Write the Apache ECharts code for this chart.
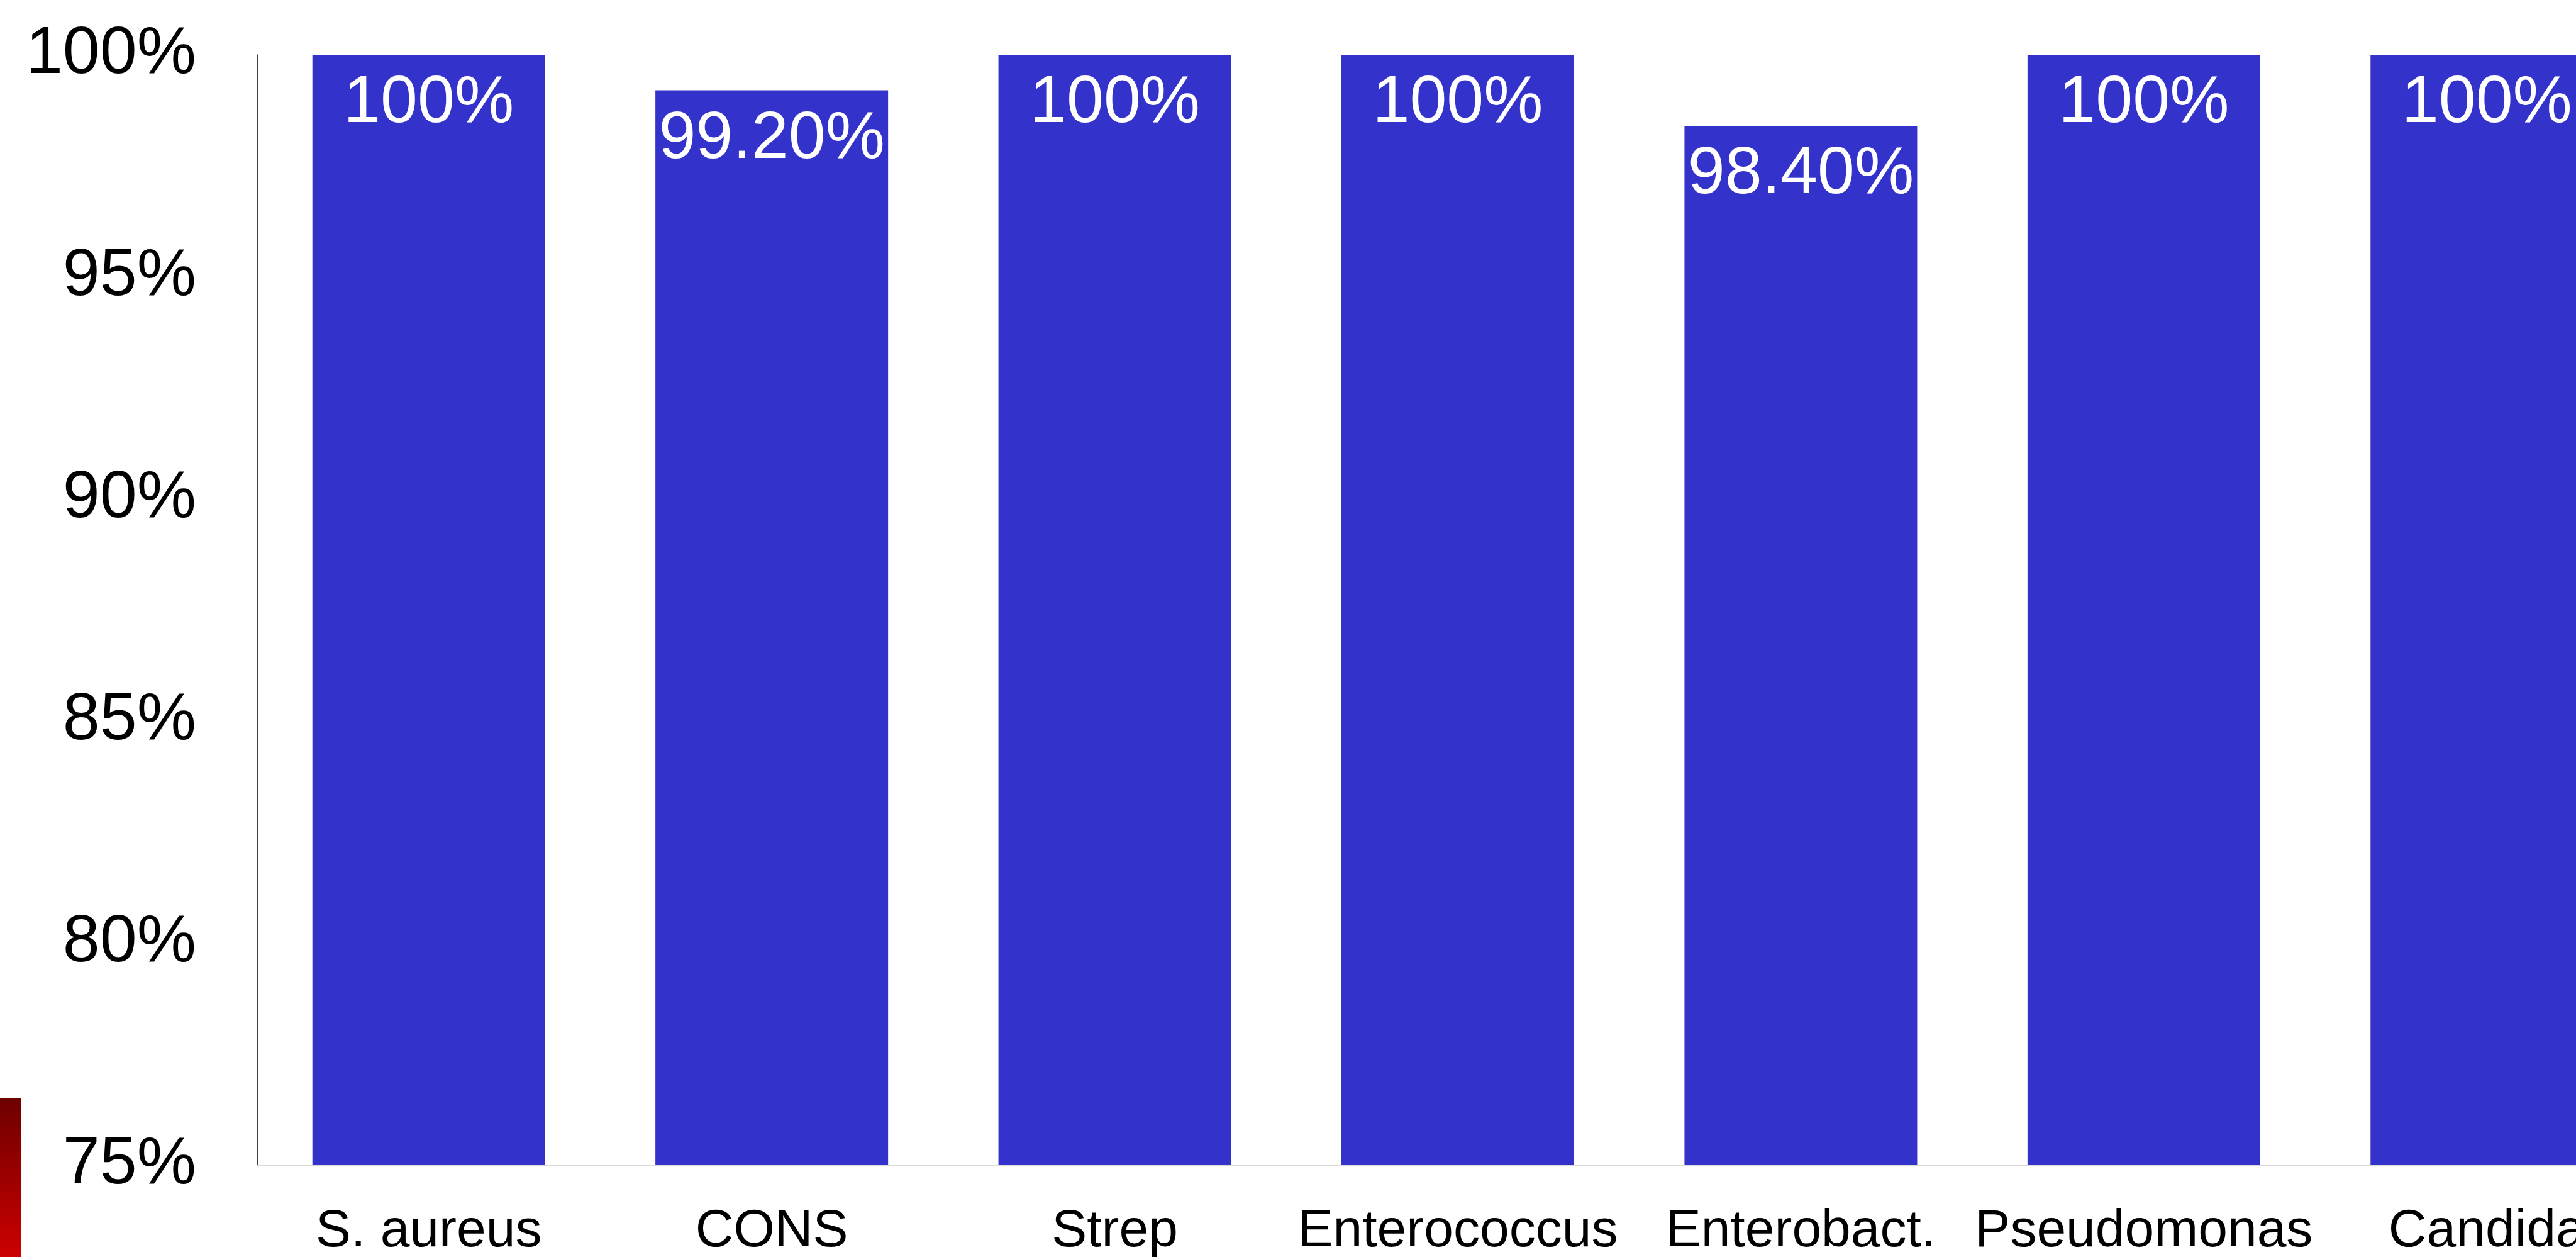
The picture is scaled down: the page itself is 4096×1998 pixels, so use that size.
<!DOCTYPE html>
<html>
<head>
<meta charset="utf-8">
<script src="https://cdn.jsdelivr.net/npm/echarts@6/dist/echarts.min.js"></script>
<style>
html,body{margin:0;padding:0;background:#ffffff;overflow:hidden;}
#chart{width:4096px;height:1998px;}
</style>
</head>
<body>
<div id="chart"></div>
<script>
const categories = ['S. aureus', 'CONS', 'Strep', 'Enterococcus', 'Enterobact.', 'Pseudomonas', 'Candida'];
const values = [100, 99.2, 100, 100, 98.4, 100, 100];
const yMin = 75, yMax = 100, yStep = 5;

const FONT = '"Liberation Sans", Arial, Helvetica, sans-serif';
const chart = echarts.init(document.getElementById('chart'), null, {renderer: 'canvas'});

function fmtValue(v) {
  return (v === 100 ? '100' : v.toFixed(2)) + '%';
}

chart.setOption({
  backgroundColor: '#ffffff',
  animation: false,
  grid: {left: 409, top: 87, width: 3818, height: 1765, containLabel: false, outerBoundsMode: 'none'},
  xAxis: {
    type: 'category',
    data: categories,
    axisLine: {show: true, lineStyle: {color: '#d9d9d9', width: 2}},
    axisTick: {show: false},
    axisLabel: {
      color: '#000000', fontFamily: FONT, fontSize: 84, lineHeight: 84,
      margin: 64, interval: 0
    },
    splitLine: {show: false}
  },
  yAxis: {
    type: 'value',
    min: yMin, max: yMax, interval: yStep,
    axisLine: {show: true, lineStyle: {color: '#000000', width: 1.5}},
    axisTick: {show: false},
    splitLine: {show: false},
    axisLabel: {
      color: '#000000', fontFamily: FONT, fontSize: 106, lineHeight: 106,
      margin: 97, formatter: '{value}%'
    }
  },
  series: [{
    type: 'bar',
    data: values,
    barWidth: 370,
    itemStyle: {color: '#3333CC'},
    label: {
      show: true, position: 'insideTop', distance: 25,
      color: '#ffffff', fontFamily: FONT, fontSize: 106, lineHeight: 106,
      formatter: p => fmtValue(p.value)
    }
  }],
  graphic: [{
    type: 'rect',
    left: 0, top: 1746,
    shape: {width: 33, height: 252},
    style: {
      fill: new echarts.graphic.LinearGradient(0, 0, 0, 1, [
        {offset: 0, color: '#6E0000'},
        {offset: 1, color: '#CC0000'}
      ])
    }
  }]
});
</script>
</body>
</html>
